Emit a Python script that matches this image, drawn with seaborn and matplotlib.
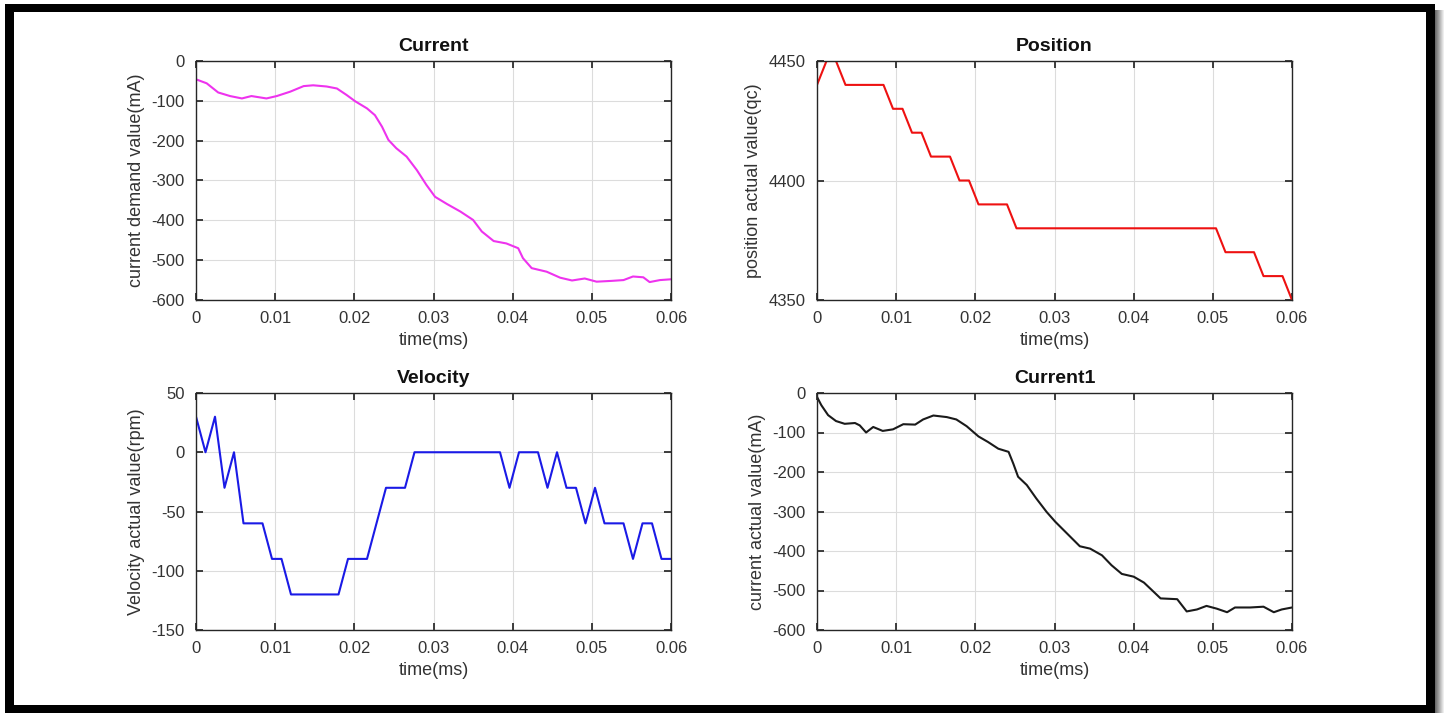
import numpy as np
import pandas as pd
import matplotlib
matplotlib.use("Agg")
import matplotlib.pyplot as plt
from matplotlib.patches import Rectangle
import seaborn as sns

# ---------------- data ----------------
cur_t = [0, 0.00135, 0.0028, 0.0043, 0.0058, 0.007, 0.0089, 0.0102, 0.0119, 0.0136,
         0.0148, 0.0165, 0.0178, 0.019, 0.0201, 0.0216, 0.0226, 0.0235, 0.0243, 0.0253,
         0.0266, 0.0279, 0.0291, 0.0302, 0.0317, 0.0334, 0.035, 0.0361, 0.0376, 0.0392,
         0.0407, 0.0413, 0.0424, 0.0443, 0.046, 0.0475, 0.0491, 0.0506, 0.0525, 0.054,
         0.0552, 0.0565, 0.0573, 0.0586, 0.06]
cur_v = [-46, -56, -79, -88, -94, -88, -94, -88, -77, -63,
         -61, -64, -69, -85, -101, -119, -136, -165, -198, -219,
         -240, -274, -311, -341, -359, -378, -399, -428, -452, -458,
         -470, -495, -520, -529, -544, -551, -546, -554, -552, -550,
         -541, -543, -555, -550, -548]

cur1_t = [0, 0.00055, 0.0014, 0.0024, 0.0035, 0.0048, 0.0054, 0.0062, 0.0071, 0.0083,
          0.0096, 0.0109, 0.0124, 0.0134, 0.0147, 0.0164, 0.0176, 0.0189, 0.0204, 0.0216,
          0.0229, 0.0242, 0.0248, 0.0254, 0.0265, 0.0277, 0.029, 0.0301, 0.0316, 0.0332,
          0.0345, 0.036, 0.0372, 0.0385, 0.04, 0.0413, 0.0423, 0.0434, 0.0455, 0.0467,
          0.048, 0.0492, 0.0505, 0.0518, 0.0528, 0.0547, 0.0564, 0.0577, 0.0587, 0.06]
cur1_v = [-10, -31, -56, -71, -78, -76, -82, -100, -86, -96,
          -92, -79, -80, -67, -57, -61, -67, -84, -110, -124,
          -141, -149, -179, -212, -233, -267, -301, -326, -356, -388,
          -394, -411, -436, -458, -465, -480, -499, -520, -522, -553,
          -548, -539, -546, -555, -543, -543, -541, -555, -548, -543]

samp_t = np.linspace(0, 0.06, 51)
position = [4440, 4450, 4450, 4440, 4440, 4440, 4440, 4440, 4430, 4430,
            4420, 4420, 4410, 4410, 4410, 4400, 4400, 4390, 4390, 4390,
            4390] + [4380] * 22 + [4370] * 4 + [4360] * 3 + [4350]
velocity = [30, 0, 30, -30, 0, -60, -60, -60, -90, -90,
            -120, -120, -120, -120, -120, -120, -90, -90, -90, -60,
            -30, -30, -30, 0, 0, 0, 0, 0, 0, 0,
            0, 0, 0, -30, 0, 0, 0, -30, 0, -30,
            -30, -60, -30, -60, -60, -60, -90, -60, -60, -90,
            -90]

x_ticks = [0, 0.01, 0.02, 0.03, 0.04, 0.05, 0.06]
x_ticklabels = ["0", "0.01", "0.02", "0.03", "0.04", "0.05", "0.06"]

# ---------------- style ----------------
sns.set_theme(style="ticks")
plt.rcParams["font.family"] = ["Liberation Sans", "DejaVu Sans"]
plt.rcParams.update({
    "axes.edgecolor": "#262626",
    "axes.linewidth": 1.0,
    "xtick.direction": "in",
    "ytick.direction": "in",
    "xtick.top": True,
    "ytick.right": True,
    "xtick.color": "#262626",
    "ytick.color": "#262626",
    "xtick.labelcolor": "#333333",
    "ytick.labelcolor": "#333333",
    "xtick.major.size": 5,
    "ytick.major.size": 5,
    "xtick.major.pad": 8,
    "ytick.major.pad": 8,
    "xtick.labelsize": 12,
    "ytick.labelsize": 12,
    "grid.color": "#dcdcdc",
    "grid.linewidth": 0.8,
})

W, H = 1444, 713
fig = plt.figure(figsize=(W / 100, H / 100), dpi=100)
fig.patch.set_facecolor("white")

def px_rect(x0, y0, x1, y1, color, z=-10):
    r = Rectangle((x0 / W, 1 - y1 / H), (x1 - x0) / W, (y1 - y0) / H,
                  transform=fig.transFigure, facecolor=color, edgecolor="none",
                  zorder=z)
    fig.patches.append(r)

# frame + shadow
shades = ["#6a6a6a", "#7a7a7a", "#8a8a8a", "#9a9a9a", "#ababab", "#bcbcbc", "#cdcdcd", "#dedede", "#eeeeee"]
for i, c in enumerate(shades):
    px_rect(1435 + i, 10, 1436 + i, 713, c, z=-12)
px_rect(5, 4, 1435, 713, "black", z=-11)
px_rect(14, 12, 1426, 705, "white", z=-10)

def ax_px(x0, y0, x1, y1):
    return fig.add_axes([x0 / W, 1 - y1 / H, (x1 - x0) / W, (y1 - y0) / H])

ax1 = ax_px(196, 61, 671, 300)
ax2 = ax_px(817, 61, 1292, 300)
ax3 = ax_px(196, 393, 671, 630)
ax4 = ax_px(817, 393, 1292, 630)

df1 = pd.DataFrame({"t": cur_t, "v": cur_v})
df2 = pd.DataFrame({"t": samp_t, "v": position})
df3 = pd.DataFrame({"t": samp_t, "v": velocity})
df4 = pd.DataFrame({"t": cur1_t, "v": cur1_v})

lw = 1.5
sns.lineplot(data=df1, x="t", y="v", ax=ax1, color="#ee33ee", lw=lw, sort=False, estimator=None)
sns.lineplot(data=df2, x="t", y="v", ax=ax2, color="#ee1111", lw=lw, sort=False, estimator=None)
sns.lineplot(data=df3, x="t", y="v", ax=ax3, color="#1a1ae6", lw=lw, sort=False, estimator=None)
sns.lineplot(data=df4, x="t", y="v", ax=ax4, color="#1a1a1a", lw=lw, sort=False, estimator=None)

specs = [
    (ax1, "Current", "current demand value(mA)", (-600, 0), [0, -100, -200, -300, -400, -500, -600]),
    (ax2, "Position", "position actual value(qc)", (4350, 4450), [4350, 4400, 4450]),
    (ax3, "Velocity", "Velocity actual value(rpm)", (-150, 50), [50, 0, -50, -100, -150]),
    (ax4, "Current1", "current actual value(mA)", (-600, 0), [0, -100, -200, -300, -400, -500, -600]),
]
for ax, title, ylab, ylim, yt in specs:
    ax.set_xlim(0, 0.06)
    ax.set_ylim(*ylim)
    ax.set_xticks(x_ticks)
    ax.set_xticklabels(x_ticklabels)
    ax.set_yticks(yt)
    ax.set_yticklabels([str(v) for v in yt])
    ax.grid(True, zorder=0)
    ax.set_axisbelow(True)
    ax.set_title(title, fontsize=14, fontweight="bold", color="#111111", pad=7)
    ax.set_xlabel("time(ms)", fontsize=13, color="#333333", labelpad=4)
    ax.set_ylabel(ylab, fontsize=13, color="#333333", labelpad=5)
    for s in ax.spines.values():
        s.set_visible(True)
        s.set_color("#262626")
        s.set_linewidth(1.0)
    ax.set_facecolor("white")

fig.savefig("out.png", dpi=100, facecolor="white")
